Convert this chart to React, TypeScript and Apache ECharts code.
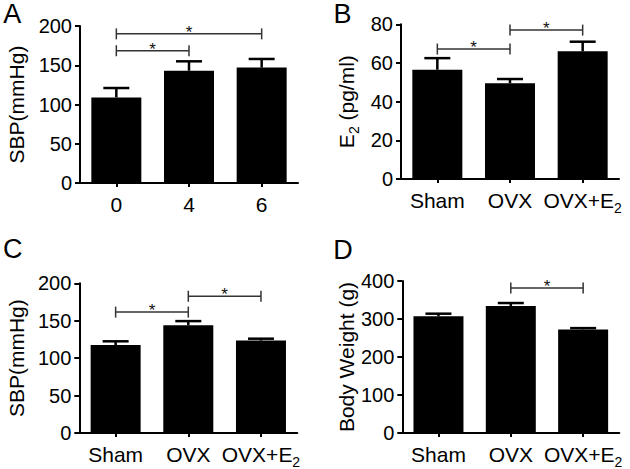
import React, { useEffect, useRef } from "react";
import * as echarts from "echarts";

const FONT = "Liberation Sans, Arial, Helvetica, sans-serif";

// Panel A: SBP over weeks
const catsA = ["0", "4", "6"];
const meansA = [109, 143, 147];
const semA = [12, 12, 11];
const sigA = [
  [0, 2, 190],
  [0, 1, 168.5],
];

// Panel B: E2
const catsGroup = ["Sham", "OVX", "OVX+E2"];
const meansB = [56.5, 49.5, 66];
const semB = [6, 2.2, 5];
const sigB = [
  [0, 1, 67.2],
  [1, 2, 77],
];

// Panel C: SBP by group
const meansC = [117.5, 144, 123.5];
const semC = [5, 5.5, 2.5];
const sigC = [
  [0, 1, 161.5],
  [1, 2, 182.7],
];

// Panel D: body weight
const meansD = [307, 334, 272.5];
const semD = [7, 8, 3.5];
const sigD = [[1, 2, 381.5]];

const yTicksA = { max: 200, interval: 50 };
const yTicksB = { max: 80, interval: 20 };
const yTicksC = { max: 200, interval: 50 };
const yTicksD = { max: 400, interval: 100 };

const grids = [
  { left: 80, top: 26, width: 218, height: 157 },
  { left: 401, top: 24.3, width: 218, height: 154.7 },
  { left: 79.3, top: 283.3, width: 218, height: 154.4 },
  { left: 402.3, top: 281, width: 217, height: 156.7 },
];

const xLabelFormatter = (v: string) =>
  v === "OVX+E2" ? "{n|OVX+E}{s|2}" : "{n|" + v + "}";

const richLabel = {
  n: { fontSize: 21, lineHeight: 30, fontFamily: FONT, color: "#000" },
  s: { fontSize: 14, lineHeight: 14, padding: [16, 0, 0, 0], fontFamily: FONT, color: "#000" },
};

function makeX(idx: number, cats: string[]) {
  return {
    type: "category",
    gridIndex: idx,
    data: cats,
    axisLine: { show: true, lineStyle: { color: "#000", width: 2 } },
    axisTick: { show: true, alignWithLabel: true, length: 4, lineStyle: { color: "#000", width: 2 } },
    axisLabel: {
      formatter: xLabelFormatter,
      rich: richLabel,
      margin: 6,
      interval: 0,
    },
  };
}

function makeY(idx: number, ticks: { max: number; interval: number }, name: string, gap: number) {
  return {
    type: "value",
    gridIndex: idx,
    min: 0,
    max: ticks.max,
    interval: ticks.interval,
    name,
    nameLocation: "middle",
    nameGap: gap,
    nameRotate: 90,
    nameTextStyle: {
      fontSize: 21,
      color: "#000",
      fontFamily: FONT,
      rich: {
        n: { fontSize: 21, lineHeight: 30, fontFamily: FONT, color: "#000" },
        s: { fontSize: 14, lineHeight: 14, padding: [16, 0, 0, 0], fontFamily: FONT, color: "#000" },
      },
    },
    splitLine: { show: false },
    axisLine: { show: true, lineStyle: { color: "#000", width: 2 } },
    axisTick: { show: true, length: 5, lineStyle: { color: "#000", width: 2 } },
    axisLabel: { fontSize: 20, color: "#000", fontFamily: FONT, margin: 8 },
  };
}

function barSeries(idx: number, means: number[]) {
  return {
    type: "bar",
    xAxisIndex: idx,
    yAxisIndex: idx,
    data: means,
    barWidth: 50,
    itemStyle: { color: "#000" },
    z: 2,
  };
}

function errSeries(idx: number, means: number[], sems: number[]) {
  return {
    type: "custom",
    xAxisIndex: idx,
    yAxisIndex: idx,
    z: 3,
    clip: false,
    data: means.map((m, i) => [i, m, sems[i]]),
    renderItem: (params: any, api: any) => {
      const x = api.value(0);
      const m = api.value(1);
      const s = api.value(2);
      const p0 = api.coord([x, m]);
      const p1 = api.coord([x, m + s]);
      return {
        type: "group",
        children: [
          {
            type: "line",
            shape: { x1: p0[0], y1: p0[1], x2: p1[0], y2: p1[1] },
            style: { stroke: "#000", lineWidth: 2.5 },
          },
          {
            type: "line",
            shape: { x1: p1[0] - 13, y1: p1[1], x2: p1[0] + 13, y2: p1[1] },
            style: { stroke: "#000", lineWidth: 2.5 },
          },
        ],
      };
    },
  };
}

function sigSeries(idx: number, sig: number[][]) {
  return {
    type: "custom",
    xAxisIndex: idx,
    yAxisIndex: idx,
    z: 4,
    clip: false,
    encode: { x: [0, 1], y: 2 },
    data: sig,
    renderItem: (params: any, api: any) => {
      const a = api.coord([api.value(0), api.value(2)]);
      const b = api.coord([api.value(1), api.value(2)]);
      const y = a[1];
      const stroke = "#333";
      return {
        type: "group",
        children: [
          { type: "line", shape: { x1: a[0], y1: y, x2: b[0], y2: y }, style: { stroke, lineWidth: 1.5 } },
          { type: "line", shape: { x1: a[0], y1: y - 5.5, x2: a[0], y2: y + 5.5 }, style: { stroke, lineWidth: 1.5 } },
          { type: "line", shape: { x1: b[0], y1: y - 5.5, x2: b[0], y2: y + 5.5 }, style: { stroke, lineWidth: 1.5 } },
          {
            type: "text",
            x: (a[0] + b[0]) / 2,
            y: y - 1.5,
            style: {
              text: "*",
              fontSize: 17,
              fontFamily: FONT,
              fill: "#111",
              align: "center",
              verticalAlign: "middle",
            },
          },
        ],
      };
    },
  };
}

const letters = [
  { t: "A", x: 12.2, y: 0 },
  { t: "B", x: 342.5, y: 0 },
  { t: "C", x: 12.8, y: 235.5 },
  { t: "D", x: 343, y: 236.5 },
];

export default function App() {
  const ref = useRef<HTMLDivElement>(null);
  useEffect(() => {
    if (!ref.current) return;
    const chart = echarts.init(ref.current, null, { renderer: "svg" });
    chart.setOption({
      animation: false,
      backgroundColor: "#fff",
      textStyle: { fontFamily: FONT },
      grid: grids,
      xAxis: [makeX(0, catsA), makeX(1, catsGroup), makeX(2, catsGroup), makeX(3, catsGroup)],
      yAxis: [
        makeY(0, yTicksA, "SBP(mmHg)", 53),
        makeY(1, yTicksB, "{n|E}{s|2}{n| (pg/ml)}", 40),
        makeY(2, yTicksC, "SBP(mmHg)", 52),
        makeY(3, yTicksD, "Body Weight (g)", 45),
      ],
      series: [
        barSeries(0, meansA),
        errSeries(0, meansA, semA),
        sigSeries(0, sigA),
        barSeries(1, meansB),
        errSeries(1, meansB, semB),
        sigSeries(1, sigB),
        barSeries(2, meansC),
        errSeries(2, meansC, semC),
        sigSeries(2, sigC),
        barSeries(3, meansD),
        errSeries(3, meansD, semD),
        sigSeries(3, sigD),
      ],
      graphic: letters.map((l) => ({
        type: "text",
        x: l.x,
        y: l.y,
        style: {
          text: l.t,
          fontSize: 27,
          fontFamily: FONT,
          fill: "#000",
          align: "center",
          verticalAlign: "top",
        },
      })),
    });
    return () => chart.dispose();
  }, []);
  return (
    <div
      ref={ref}
      style={{ position: "fixed", left: 0, top: 0, width: 630, height: 469 }}
    />
  );
}
